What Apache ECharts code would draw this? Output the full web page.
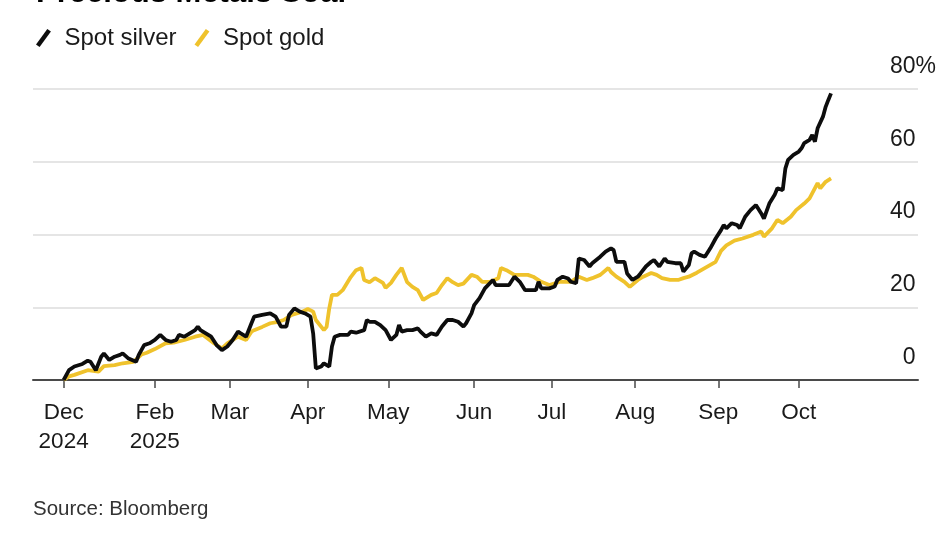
<!DOCTYPE html>
<html>
<head>
<meta charset="utf-8">
<style>
  html, body { margin: 0; padding: 0; background: #fff; }
  #chart { width: 948px; height: 533px; }
</style>
<script src="https://cdn.jsdelivr.net/npm/echarts@6/dist/echarts.min.js"></script>
</head>
<body>
<div id="chart"></div>
<script>
// year-to-date change, %
var silver = [
  ['2024-12-31', 0], ['2025-01-02', 2.7], ['2025-01-04', 3.7], ['2025-01-07', 4.4], ['2025-01-09', 5.3],
  ['2025-01-10', 5.0], ['2025-01-12', 2.7], ['2025-01-14', 6.4], ['2025-01-15', 7.3], ['2025-01-17', 5.5],
  ['2025-01-19', 6.4], ['2025-01-21', 6.9], ['2025-01-22', 7.3], ['2025-01-24', 6.0], ['2025-01-27', 5.0],
  ['2025-01-28', 6.9], ['2025-01-30', 9.6], ['2025-02-01', 10.1], ['2025-02-03', 11.0], ['2025-02-05', 12.4],
  ['2025-02-07', 11.0], ['2025-02-09', 10.5], ['2025-02-11', 11.0], ['2025-02-12', 12.4], ['2025-02-14', 11.9],
  ['2025-02-16', 12.8], ['2025-02-18', 13.7], ['2025-02-19', 14.7], ['2025-02-20', 13.7], ['2025-02-22', 12.8],
  ['2025-02-24', 11.9], ['2025-02-26', 9.6], ['2025-02-28', 8.2], ['2025-03-02', 9.2], ['2025-03-04', 11.0],
  ['2025-03-06', 13.3], ['2025-03-07', 12.8], ['2025-03-09', 11.9], ['2025-03-11', 15.6], ['2025-03-12', 17.4],
  ['2025-03-15', 17.9], ['2025-03-18', 18.3], ['2025-03-20', 17.4], ['2025-03-22', 14.7], ['2025-03-24', 14.7],
  ['2025-03-25', 17.9], ['2025-03-27', 19.7], ['2025-03-29', 18.8], ['2025-03-31', 18.3], ['2025-04-02', 17.4],
  ['2025-04-03', 12.8], ['2025-04-04', 3.2], ['2025-04-06', 3.7], ['2025-04-07', 4.6], ['2025-04-09', 3.7],
  ['2025-04-10', 9.2], ['2025-04-11', 11.9], ['2025-04-13', 12.4], ['2025-04-16', 12.4], ['2025-04-17', 13.3],
  ['2025-04-19', 13.0], ['2025-04-22', 13.7], ['2025-04-23', 16.5], ['2025-04-24', 16.0], ['2025-04-26', 16.0],
  ['2025-04-28', 15.1], ['2025-04-30', 13.7], ['2025-05-02', 11.0], ['2025-05-04', 12.4], ['2025-05-05', 15.1],
  ['2025-05-06', 13.3], ['2025-05-08', 13.7], ['2025-05-10', 13.7], ['2025-05-12', 14.2], ['2025-05-13', 13.3],
  ['2025-05-15', 11.9], ['2025-05-17', 12.8], ['2025-05-19', 12.4], ['2025-05-21', 14.7], ['2025-05-23', 16.5],
  ['2025-05-25', 16.5], ['2025-05-27', 16.0], ['2025-05-29', 14.7], ['2025-05-30', 15.6], ['2025-06-01', 18.3],
  ['2025-06-02', 20.6], ['2025-06-04', 22.5], ['2025-06-06', 25.2], ['2025-06-09', 27.5], ['2025-06-10', 26.1],
  ['2025-06-13', 26.1], ['2025-06-15', 26.1], ['2025-06-17', 28.4], ['2025-06-19', 27.0], ['2025-06-21', 24.7],
  ['2025-06-23', 24.7], ['2025-06-25', 24.7], ['2025-06-26', 27.0], ['2025-06-27', 25.2], ['2025-06-30', 25.2],
  ['2025-07-02', 25.7], ['2025-07-03', 27.5], ['2025-07-05', 28.4], ['2025-07-07', 27.9], ['2025-07-08', 27.0],
  ['2025-07-10', 26.6], ['2025-07-11', 33.4], ['2025-07-13', 33.0], ['2025-07-15', 31.2], ['2025-07-16', 32.1],
  ['2025-07-19', 33.9], ['2025-07-21', 35.3], ['2025-07-23', 36.2], ['2025-07-24', 35.7], ['2025-07-25', 32.5],
  ['2025-07-28', 32.5], ['2025-07-29', 29.3], ['2025-07-31', 27.5], ['2025-08-02', 28.4], ['2025-08-03', 29.3],
  ['2025-08-05', 31.2], ['2025-08-07', 32.5], ['2025-08-08', 33.0], ['2025-08-10', 31.2], ['2025-08-12', 33.4],
  ['2025-08-13', 32.5], ['2025-08-16', 32.1], ['2025-08-18', 32.1], ['2025-08-19', 29.8], ['2025-08-21', 31.6],
  ['2025-08-22', 34.8], ['2025-08-23', 35.3], ['2025-08-25', 34.4], ['2025-08-27', 33.9], ['2025-08-29', 36.2],
  ['2025-08-31', 38.9], ['2025-09-02', 41.2], ['2025-09-03', 42.6], ['2025-09-04', 41.7], ['2025-09-06', 43.1],
  ['2025-09-08', 42.6], ['2025-09-09', 41.7], ['2025-09-11', 44.9], ['2025-09-13', 46.7], ['2025-09-15', 48.1],
  ['2025-09-17', 45.8], ['2025-09-18', 44.4], ['2025-09-20', 48.5], ['2025-09-22', 50.9], ['2025-09-23', 52.7],
  ['2025-09-25', 52.2], ['2025-09-26', 58.2], ['2025-09-27', 60.5], ['2025-09-29', 61.9], ['2025-10-01', 62.8],
  ['2025-10-02', 63.7], ['2025-10-03', 65.1], ['2025-10-05', 66.0], ['2025-10-06', 67.4], ['2025-10-07', 65.5],
  ['2025-10-08', 69.2], ['2025-10-10', 72.4], ['2025-10-11', 75.1], ['2025-10-12', 77.0], ['2025-10-13', 78.8]
];

var gold = [
  ['2024-12-31', 0], ['2025-01-02', 1.0], ['2025-01-04', 1.4], ['2025-01-09', 2.7], ['2025-01-13', 2.3],
  ['2025-01-15', 3.8], ['2025-01-19', 4.1], ['2025-01-22', 4.6], ['2025-01-26', 5.0], ['2025-01-29', 7.0],
  ['2025-01-31', 7.5], ['2025-02-03', 8.5], ['2025-02-07', 10.1], ['2025-02-10', 10.3], ['2025-02-14', 11.0],
  ['2025-02-18', 11.9], ['2025-02-21', 12.4], ['2025-02-25', 10.1], ['2025-02-28', 8.7], ['2025-03-02', 10.1],
  ['2025-03-06', 11.9], ['2025-03-09', 11.0], ['2025-03-11', 13.3], ['2025-03-12', 13.7], ['2025-03-15', 14.6],
  ['2025-03-18', 15.6], ['2025-03-21', 16.0], ['2025-03-23', 16.5], ['2025-03-26', 17.9], ['2025-03-30', 18.8],
  ['2025-04-01', 19.5], ['2025-04-03', 18.8], ['2025-04-04', 16.5], ['2025-04-07', 13.7], ['2025-04-08', 14.6],
  ['2025-04-09', 19.7], ['2025-04-10', 23.4], ['2025-04-12', 23.4], ['2025-04-14', 24.7], ['2025-04-17', 28.3],
  ['2025-04-19', 30.2], ['2025-04-21', 30.8], ['2025-04-22', 27.5], ['2025-04-24', 26.9], ['2025-04-26', 28.0],
  ['2025-04-29', 26.7], ['2025-04-30', 25.3], ['2025-05-02', 26.7], ['2025-05-04', 28.9], ['2025-05-06', 30.8],
  ['2025-05-08', 26.9], ['2025-05-10', 25.6], ['2025-05-12', 24.7], ['2025-05-14', 22.0], ['2025-05-17', 23.4],
  ['2025-05-19', 23.9], ['2025-05-21', 26.1], ['2025-05-23', 28.0], ['2025-05-25', 26.9], ['2025-05-27', 26.1],
  ['2025-05-29', 26.5], ['2025-06-01', 28.9], ['2025-06-03', 28.4], ['2025-06-05', 27.0], ['2025-06-08', 27.0],
  ['2025-06-11', 28.0], ['2025-06-12', 30.8], ['2025-06-14', 30.2], ['2025-06-17', 28.9], ['2025-06-20', 28.9],
  ['2025-06-22', 28.9], ['2025-06-24', 28.4], ['2025-06-27', 27.0], ['2025-06-30', 26.1], ['2025-07-04', 27.0],
  ['2025-07-08', 27.0], ['2025-07-11', 28.4], ['2025-07-14', 27.5], ['2025-07-16', 28.0], ['2025-07-19', 28.9],
  ['2025-07-22', 30.8], ['2025-07-23', 29.7], ['2025-07-25', 28.4], ['2025-07-28', 27.0], ['2025-07-30', 25.6],
  ['2025-08-02', 27.5], ['2025-08-04', 28.4], ['2025-08-07', 29.4], ['2025-08-09', 28.9], ['2025-08-11', 28.0],
  ['2025-08-14', 27.5], ['2025-08-17', 27.5], ['2025-08-19', 28.0], ['2025-08-21', 28.4], ['2025-08-24', 29.5],
  ['2025-08-31', 32.5], ['2025-09-02', 35.5], ['2025-09-04', 37.0], ['2025-09-07', 38.3], ['2025-09-10', 38.9],
  ['2025-09-14', 39.9], ['2025-09-17', 40.8], ['2025-09-18', 39.4], ['2025-09-21', 41.7], ['2025-09-23', 44.0],
  ['2025-09-25', 43.1], ['2025-09-28', 44.9], ['2025-09-30', 46.7], ['2025-10-03', 48.5], ['2025-10-05', 49.9],
  ['2025-10-08', 54.1], ['2025-10-09', 52.7], ['2025-10-11', 54.5], ['2025-10-13', 55.4]
];

var tickDates = ['2024-12-31', '2025-02-03', '2025-03-03', '2025-04-01', '2025-05-01',
  '2025-06-02', '2025-07-01', '2025-08-01', '2025-09-01', '2025-10-01'];
var tickLabels = ['Dec\n2024', 'Feb\n2025', 'Mar', 'Apr', 'May', 'Jun', 'Jul', 'Aug', 'Sep', 'Oct'];
var yTicks = [0, 20, 40, 60, 80];

function ts(s, hh) { return new Date(s + 'T' + (hh || '00') + ':00:00').getTime(); }
var tickTimes = tickDates.map(function (d) { return ts(d); });

var font = '"Liberation Sans", Arial, sans-serif';
var ink = '#1a1a1a';
var axisColor = '#4a4a4a';
var silverColor = '#0d0d0d';
var goldColor = '#efc22c';
var slash = 'path://M0,15 L11,0 L14.5,2.5 L3.5,17.5 Z';

var chart = echarts.init(document.getElementById('chart'));
chart.setOption({
  animation: false,
  textStyle: { fontFamily: font },
  title: {
    text: 'Precious Metals Soar',
    left: 31,
    top: -27,
    textStyle: { fontFamily: font, fontSize: 31, fontWeight: 'bold', color: '#000' }
  },
  legend: {
    data: [
      { name: 'Spot silver', icon: slash, itemStyle: { color: silverColor } },
      { name: 'Spot gold', icon: slash, itemStyle: { color: goldColor } }
    ],
    left: 31,
    top: 21,
    itemWidth: 16,
    itemHeight: 18,
    itemGap: 18,
    textStyle: { fontFamily: font, fontSize: 24, color: ink, padding: [0, 0, 0, 8] }
  },
  grid: { left: 33, right: 30, top: 89, bottom: 153 },
  xAxis: {
    type: 'value',
    min: ts('2024-12-19', '14'),
    max: ts('2025-11-14', '10'),
    axisLine: { lineStyle: { color: axisColor, width: 2 } },
    axisTick: { customValues: tickTimes, length: 8, lineStyle: { color: axisColor, width: 1.5 } },
    axisLabel: {
      customValues: tickTimes,
      margin: 18,
      fontSize: 22.5,
      lineHeight: 29,
      color: ink,
      fontFamily: font,
      formatter: function (v) {
        var i = tickTimes.indexOf(v);
        return i >= 0 ? tickLabels[i] : '';
      }
    },
    splitLine: { show: false }
  },
  yAxis: {
    type: 'value',
    position: 'right',
    min: yTicks[0],
    max: yTicks[yTicks.length - 1],
    interval: 20,
    axisLine: { show: false },
    axisTick: { show: false },
    splitLine: { lineStyle: { color: '#dcdcdc', width: 1.5 } },
    axisLabel: {
      margin: 18,
      align: 'right',
      verticalAlign: 'bottom',
      padding: [0, 0, 11, 0],
      fontSize: 23,
      color: ink,
      fontFamily: font,
      formatter: function (v) {
        return v === 80 ? v + '{p|%}' : v + '{h|%}';
      },
      rich: {
        p: { fontSize: 23, color: ink, fontFamily: font },
        h: { fontSize: 23, color: 'rgba(0,0,0,0)', fontFamily: font }
      }
    }
  },
  graphic: [{
    type: 'text',
    left: 33,
    top: 499,
    style: { text: 'Source: Bloomberg', fontFamily: font, fontSize: 20.5, fill: '#333' }
  }],
  series: [
    {
      name: 'Spot gold',
      type: 'line',
      data: gold.map(function (d) { return [ts(d[0]), d[1]]; }),
      showSymbol: false,
      lineStyle: { color: goldColor, width: 3.8 },
      itemStyle: { color: goldColor }
    },
    {
      name: 'Spot silver',
      type: 'line',
      data: silver.map(function (d) { return [ts(d[0]), d[1]]; }),
      showSymbol: false,
      lineStyle: { color: silverColor, width: 3.8 },
      itemStyle: { color: silverColor }
    }
  ]
});
</script>
</body>
</html>
